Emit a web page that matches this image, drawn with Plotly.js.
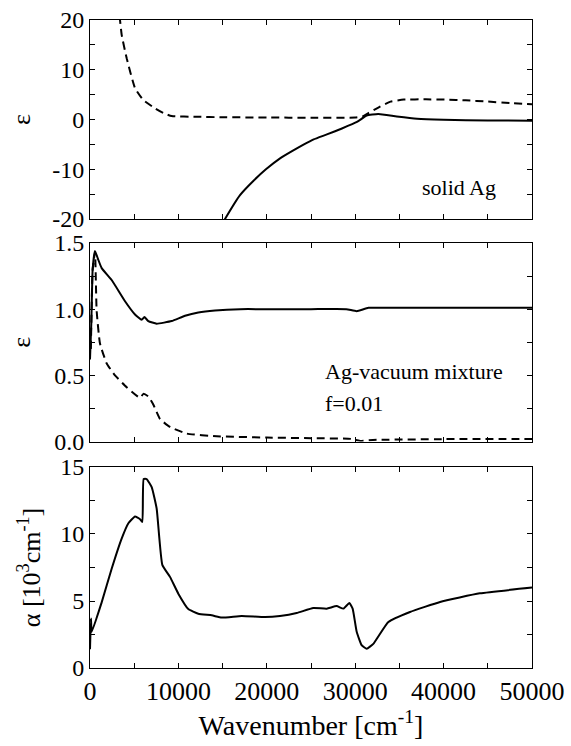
<!DOCTYPE html>
<html>
<head>
<meta charset="utf-8">
<script src="https://cdn.plot.ly/plotly-3.0.1.min.js"></script>
<style>
  html, body { margin: 0; padding: 0; background: #fff; }
  #chart { width: 571px; height: 746px; }
  #chart svg text { font-family: "Liberation Serif", "DejaVu Serif", serif !important; }
</style>
</head>
<body>
<div id="chart"></div>
<script>
// ---- Panel 1: solid Ag (epsilon) ----
const solidTopX = [14000, 15270, 16970, 18500, 19900, 21500, 23000, 24100, 25300, 26800, 28500, 30200, 31300, 32600, 34700, 37000, 40000, 45000, 50000];
const solidTopY = [-24, -20, -15.2, -12.3, -10.0, -7.8, -6.2, -5.1, -4.0, -3.0, -1.8, -0.5, 0.8, 1.1, 0.6, 0.15, -0.05, -0.2, -0.25];
const dashTopX = [3000, 3394, 3585, 4150, 5090, 6030, 7350, 8300, 9240, 12000, 15000, 20000, 25000, 30000, 30800, 31450, 32800, 34000, 35500, 38000, 40300, 42500, 45000, 47500, 50000];
const dashTopY = [26, 20, 17, 12.3, 6.3, 3.9, 2.25, 1.3, 0.7, 0.55, 0.45, 0.4, 0.35, 0.4, 0.6, 1.25, 2.6, 3.6, 4.0, 4.05, 4.0, 3.85, 3.6, 3.3, 3.05];

// ---- Panel 2: Ag-vacuum mixture f=0.01 (epsilon) ----
const solidMidX = [0, 150, 300, 565, 900, 1320, 2450, 3960, 5090, 5850, 6150, 6600, 7540, 9240, 10750, 12250, 14140, 17000, 20000, 25000, 29000, 30170, 31500, 35000, 40000, 45000, 50000];
const solidMidY = [0.62, 0.9, 1.3, 1.44, 1.38, 1.31, 1.22, 1.06, 0.96, 0.92, 0.94, 0.91, 0.89, 0.91, 0.95, 0.975, 0.99, 1.0, 1.0, 1.0, 1.0, 0.985, 1.01, 1.01, 1.01, 1.01, 1.01];
const dashMidX = [100, 300, 565, 750, 1130, 1890, 2830, 4150, 5660, 6030, 6600, 7160, 7920, 9050, 10940, 14330, 20000, 25000, 29500, 30500, 32000, 40000, 50000];
const dashMidY = [0.7, 1.3, 1.43, 0.99, 0.74, 0.59, 0.50, 0.41, 0.33, 0.36, 0.34, 0.28, 0.17, 0.11, 0.06, 0.04, 0.03, 0.025, 0.02, 0.005, 0.012, 0.018, 0.02];

// ---- Panel 3: absorption coefficient alpha [10^3 cm^-1] ----
const alphaX = [0, 110, 190, 1320, 2450, 3580, 4340, 5090, 5660, 5920, 6070, 6410, 6980, 7540, 8180, 9050, 9990, 11120, 12250, 13770, 14900, 17160, 19800, 21490, 23380, 25260, 26770, 27900, 28660, 29340, 29710, 30170, 30730, 31300, 32050, 33750, 36200, 39600, 44100, 50000];
const alphaY = [1.4, 3.7, 2.7, 4.9, 7.4, 9.65, 10.8, 11.3, 11.1, 10.9, 14.1, 14.1, 13.5, 11.9, 7.7, 6.8, 5.55, 4.4, 4.05, 3.93, 3.76, 3.88, 3.8, 3.88, 4.1, 4.48, 4.43, 4.62, 4.43, 4.85, 4.43, 2.7, 1.7, 1.44, 1.8, 3.43, 4.18, 4.93, 5.57, 6.0];

// ---- Tick labels ----
const xTickVals = [0, 10000, 20000, 30000, 40000, 50000];
const xTickText = ['0', '10000', '20000', '30000', '40000', '50000'];
const y1TickVals = [-20, -10, 0, 10, 20];
const y1TickText = ['-20', '-10', '0', '10', '20'];
const y2TickVals = [0, 0.5, 1.0, 1.5];
const y2TickText = ['0.0', '0.5', '1.0', '1.5'];
const y3TickVals = [0, 5, 10, 15];
const y3TickText = ['0', '5', '10', '15'];

const FONT = '"Liberation Serif", "DejaVu Serif", serif';
const solidLine = {color: '#000', width: 2, shape: 'spline', smoothing: 0.4};
const dashLine = {color: '#000', width: 2, dash: '8px,5px', shape: 'spline', smoothing: 0.4};

const traces = [
  {x: dashTopX, y: dashTopY, xaxis: 'x', yaxis: 'y', mode: 'lines', line: dashLine, hoverinfo: 'skip'},
  {x: solidTopX, y: solidTopY, xaxis: 'x', yaxis: 'y', mode: 'lines', line: solidLine, hoverinfo: 'skip'},
  {x: dashMidX, y: dashMidY, xaxis: 'x2', yaxis: 'y2', mode: 'lines', line: dashLine, hoverinfo: 'skip'},
  {x: solidMidX, y: solidMidY, xaxis: 'x2', yaxis: 'y2', mode: 'lines', line: solidLine, hoverinfo: 'skip'},
  {x: alphaX, y: alphaY, xaxis: 'x3', yaxis: 'y3', mode: 'lines', line: solidLine, hoverinfo: 'skip'}
];

function xAxis(anchor, labels) {
  return {
    anchor: anchor, domain: [0, 1], range: [0, 50000],
    showline: true, linecolor: '#000', linewidth: 1, mirror: 'ticks',
    ticks: 'inside', ticklen: 5, tickwidth: 1, tickcolor: '#000',
    tickvals: xTickVals, ticktext: xTickText, showticklabels: labels,
    minor: {dtick: 5000, tick0: 0, ticks: 'inside', ticklen: 5, tickwidth: 1, tickcolor: '#000', showgrid: false},
    showgrid: false, zeroline: false,
    tickfont: {family: FONT, size: 26, color: '#000'}
  };
}
function yAxis(anchor, domain, range, vals, text, minorStep, title, standoff) {
  return {
    anchor: anchor, domain: domain, range: range,
    showline: true, linecolor: '#000', linewidth: 1, mirror: 'ticks',
    ticks: 'inside', ticklen: 5, tickwidth: 1, tickcolor: '#000',
    tickvals: vals, ticktext: text,
    minor: {dtick: minorStep, tick0: 0, ticks: 'inside', ticklen: 5, tickwidth: 1, tickcolor: '#000', showgrid: false},
    showgrid: false, zeroline: false,
    tickfont: {family: FONT, size: 24, color: '#000'},
    title: {text: title, font: {family: FONT, size: 26, color: '#000'}, standoff: standoff}
  };
}

const layout = {
  width: 571, height: 746,
  margin: {l: 90, r: 39, t: 20, b: 78},
  font: {family: FONT, color: '#000'},
  paper_bgcolor: '#fff', plot_bgcolor: '#fff',
  showlegend: false,
  xaxis: xAxis('y', false),
  xaxis2: xAxis('y2', false),
  xaxis3: Object.assign(xAxis('y3', true), {
    title: {text: 'Wavenumber [cm<sup>-1</sup>]', font: {family: FONT, size: 28, color: '#000'}, standoff: 8}
  }),
  yaxis: yAxis('x', [0.6929, 1], [-20, 20], y1TickVals, y1TickText, 5, 'ε', 14),
  yaxis2: yAxis('x2', [0.3495, 0.6559], [0, 1.5], y2TickVals, y2TickText, 0.25, 'ε', 16),
  yaxis3: yAxis('x3', [0, 0.3102], [0, 15], y3TickVals, y3TickText, 2.5, 'α [10<sup>3</sup>cm<sup>-1</sup>]', 12),
  annotations: [
    {text: 'solid Ag', xref: 'x', yref: 'y', x: 37330, y: -13.6, xanchor: 'left', yanchor: 'middle', showarrow: false, font: {family: FONT, size: 22, color: '#000'}},
    {text: 'Ag-vacuum mixture', xref: 'x2', yref: 'y2', x: 26360, y: 0.527, xanchor: 'left', yanchor: 'middle', showarrow: false, font: {family: FONT, size: 22, color: '#000'}},
    {text: 'f=0.01', xref: 'x2', yref: 'y2', x: 26360, y: 0.288, xanchor: 'left', yanchor: 'middle', showarrow: false, font: {family: FONT, size: 22, color: '#000'}}
  ]
};

Plotly.newPlot('chart', traces, layout, {staticPlot: true, displayModeBar: false});
</script>
</body>
</html>
